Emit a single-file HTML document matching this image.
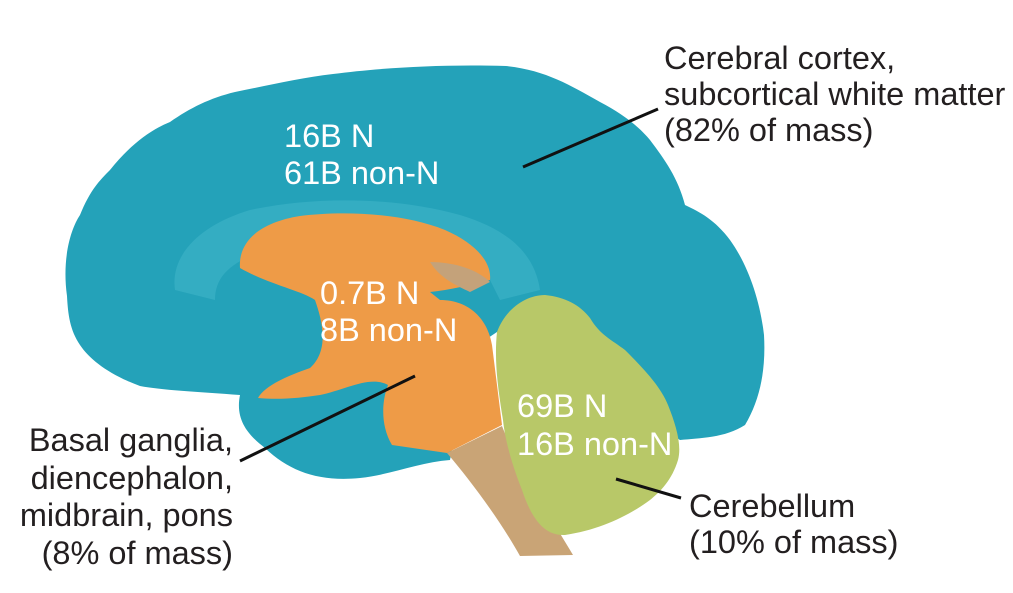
<!DOCTYPE html>
<html><head><meta charset="utf-8"><style>
html,body{margin:0;padding:0;background:#fff}
svg{display:block}
text{font-family:"Liberation Sans",Arial,sans-serif;font-size:32.5px}
</style></head><body>
<svg width="1013" height="593" viewBox="0 0 1013 593" xmlns="http://www.w3.org/2000/svg">
<!-- cortex -->
<path fill="#24a2b9" d="M67,296 C62,260 70,230 80,215 C90,190 100,180 110,170 C130,145 150,130 170,122 C190,108 210,98 235,92 C270,85 300,78 333,74 C380,68 440,64 506,66 C545,70 570,85 600,102 C625,115 640,128 650,140 C665,160 678,178 685,205 C700,212 715,220 730,240 C748,265 760,300 764,335 C766,370 760,400 745,425 C725,438 700,438 680,440 L500,330 L470,350 L450,460 C420,462 390,475 360,478 C320,482 290,472 265,448 C248,435 235,420 240,395 C200,392 160,390 140,386 C110,375 90,360 80,345 C70,330 68,315 67,296 Z"/>
<!-- inner light ring -->
<path fill="#34adc2" d="M175,290 C170,255 200,225 250,210 C320,195 400,198 460,215 C510,230 535,255 540,290 L500,300 L480,260 C440,235 360,230 300,240 C240,255 215,270 215,300 Z"/>
<!-- orange -->
<path fill="#ee9b47" d="M240,268 C238,240 262,222 300,216 C340,211 400,212 445,230 C475,243 492,262 490,280 C470,285 450,290 430,292 L440,300 C470,300 488,320 492,345 L502,425 L447,453 L392,445 C380,425 382,400 388,385 C370,375 345,390 320,395 C300,398 280,400 258,398 C265,385 290,375 310,368 C330,350 322,320 315,300 C300,290 270,285 240,268 Z"/>
<path fill="#c4a27a" d="M430,262 C455,262 478,270 490,282 L470,292 C455,285 440,278 430,262 Z"/>
<!-- brainstem -->
<path fill="#c9a476" d="M447,453 L502,426 C515,460 540,500 573,555 L520,556 C500,520 470,480 447,453 Z"/>
<!-- cerebellum -->
<path fill="#b8c868" d="M497,332 C505,310 525,295 545,295 C565,297 580,305 590,318 C600,335 612,340 625,350 C640,365 660,385 668,405 C676,425 682,445 678,460 C672,480 660,492 650,500 C630,515 600,530 565,535 C545,536 532,520 522,490 C512,465 505,440 503,420 C498,390 494,360 497,332 Z"/>
<g fill="#fff">
<text x="284" y="147">16B N</text>
<text x="284" y="184">61B non-N</text>
<text x="320" y="304">0.7B N</text>
<text x="320" y="341">8B non-N</text>
<text x="517" y="417">69B N</text>
<text x="517" y="455">16B non-N</text>
</g>
<g fill="#231f20">
<text x="664" y="69">Cerebral cortex,</text>
<text x="664" y="105">subcortical white matter</text>
<text x="664" y="141">(82% of mass)</text>
<text x="233" y="451" text-anchor="end">Basal ganglia,</text>
<text x="233" y="489" text-anchor="end">diencephalon,</text>
<text x="233" y="526" text-anchor="end">midbrain, pons</text>
<text x="233" y="564" text-anchor="end">(8% of mass)</text>
<text x="689" y="517">Cerebellum</text>
<text x="689" y="553">(10% of mass)</text>
</g>
<g stroke="#111" stroke-width="3">
<line x1="523" y1="167" x2="658" y2="109"/>
<line x1="240" y1="461" x2="415" y2="376"/>
<line x1="616" y1="479" x2="681" y2="498"/>
</g>
</svg>
</body></html>
